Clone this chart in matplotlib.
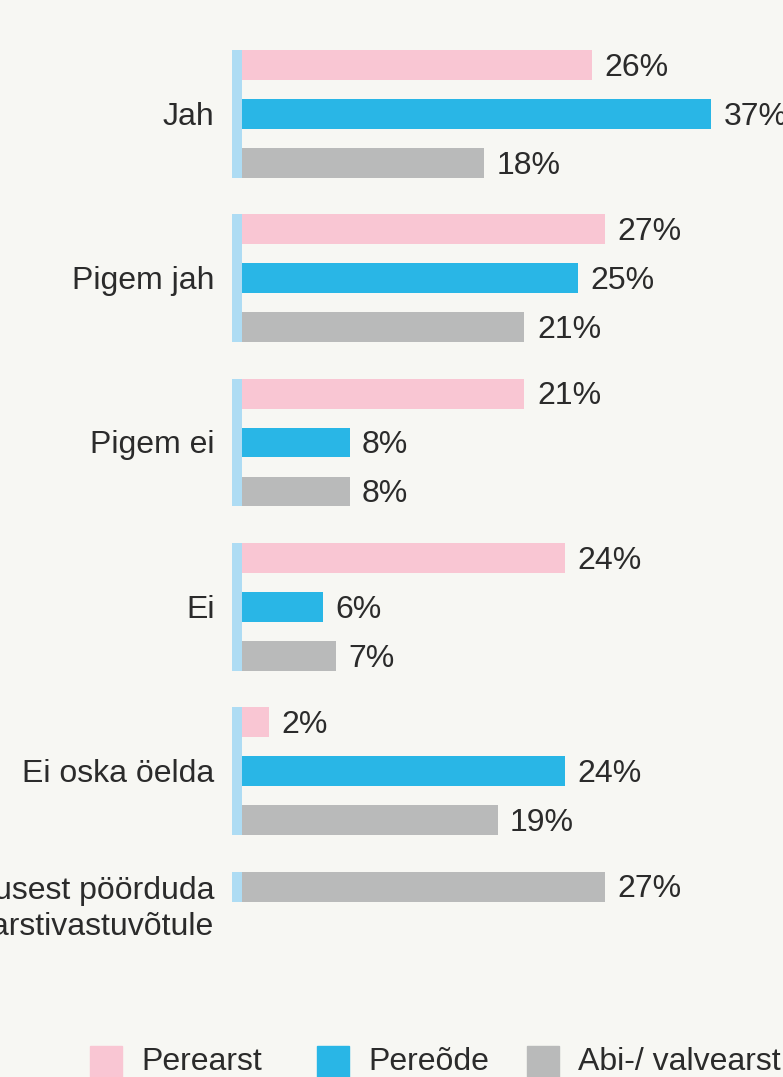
import matplotlib.pyplot as plt
from matplotlib.patches import Rectangle
import numpy as np

plt.rcParams['font.family'] = ['Liberation Sans', 'DejaVu Sans']

categories = ['Jah', 'Pigem jah', 'Pigem ei', 'Ei', 'Ei oska öelda',
              'Pole olnud vajadusest pöörduda\nperearstivastuvõtule']
series = ['Perearst', 'Pereõde', 'Abi-/ valvearst']
perearst = [26, 27, 21, 24, 2, None]
pereode = [37, 25, 8, 6, 24, None]
valvearst = [18, 21, 8, 7, 19, 27]
colors = ['#f9c6d3', '#29b6e6', '#b9baba']
strip_color = '#aedcf3'
bg = '#f7f7f3'
text_color = '#2b2b2b'
fs = 23

W, H = 783, 1077
fig = plt.figure(figsize=(W / 100, H / 100), dpi=100, facecolor=bg)
# axes box in pixels: left 232, right 711, top 30, bottom 960
ax = fig.add_axes([232 / W, 1 - 960 / H, (711 - 232) / W, 930 / H])
ax.set_facecolor(bg)

xmax = 34.87
x0 = -10 / 13.45          # width of light blue strip left of bars
group_step = 3.36
bar_h = 0.61

values = [perearst, pereode, valvearst]
for g, cat in enumerate(categories):
    slots = []
    slot = 0
    for s in range(3):
        v = values[s][g]
        if v is None:
            continue
        y = g * group_step + slot
        ax.barh(y, v, height=bar_h, color=colors[s], left=0)
        ax.annotate(f'{v}%', xy=(min(v, xmax), y), xytext=(9, -2),
                    textcoords='offset points', va='center', ha='left',
                    fontsize=fs, color=text_color, annotation_clip=False)
        slots.append(y)
        slot += 1
    top = slots[0] - bar_h / 2
    bottom = slots[-1] + bar_h / 2
    ax.barh((top + bottom) / 2, -x0, height=bottom - top, left=x0,
            color=strip_color)
    mid = slots[len(slots) // 2] if len(slots) == 3 else slots[0]
    ty = mid if '\n' not in cat else slots[0] + 0.4
    ax.annotate(cat, xy=(x0, ty), xytext=(-12.5, -2), textcoords='offset points',
                ha='right', va='center', fontsize=fs, color=text_color,
                annotation_clip=False, linespacing=1.22)

ax.set_xlim(x0, xmax)
ax.set_ylim(18.3, -0.716)
ax.axis('off')

# legend
leg_items = [(90, 141), (317, 368), (527, 578)]
for (sx, tx), name, c in zip(leg_items, series, colors):
    fig.add_artist(Rectangle((sx / W, 1 - 1078 / H), 32 / W, 32 / H,
                             transform=fig.transFigure, color=c))
    fig.text(tx / W, 1 - 1062 / H, name, ha='left', va='center',
             fontsize=fs, color=text_color)

fig.savefig('out.png', dpi=100, facecolor=bg)
